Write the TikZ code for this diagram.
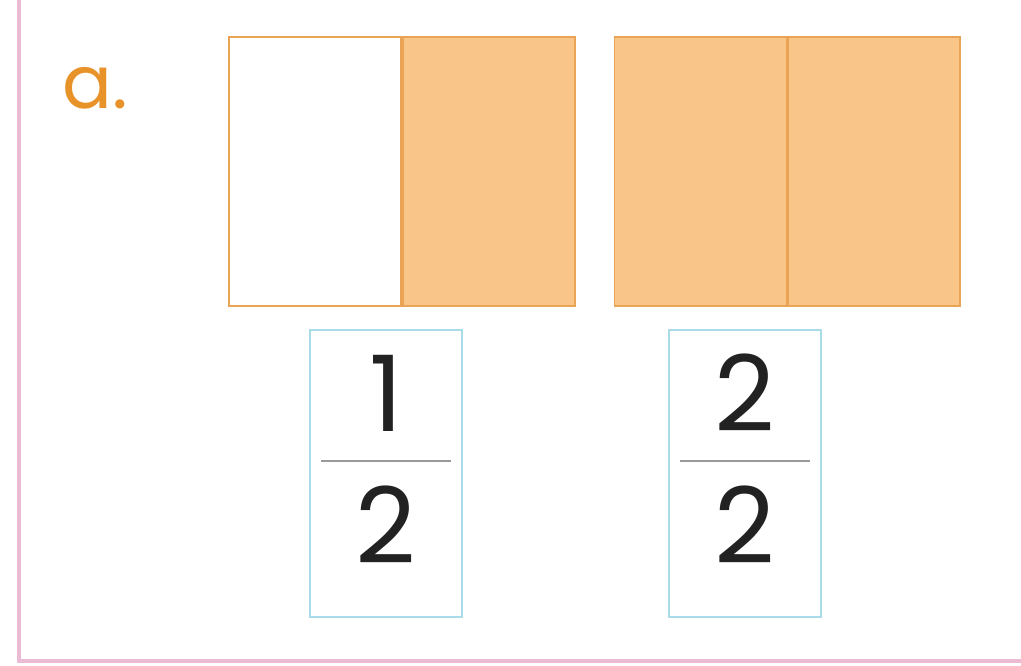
\documentclass[tikz,border=0pt]{standalone}
\usepackage{fontspec}
\setmainfont{Poppins}
\usepackage{tikz}
\usetikzlibrary{positioning,calc}
\definecolor{framepink}{HTML}{EBBBD3}
\definecolor{halffill}{HTML}{FAC589}
\definecolor{halfline}{HTML}{E9A455}
\definecolor{labelorange}{HTML}{E8922A}
\definecolor{boxblue}{HTML}{A9DCE8}
\definecolor{digitgray}{HTML}{222222}

\tikzset{
  half/.style={draw=halfline, line width=1pt, minimum width=3.44cm, minimum height=5.38cm, inner sep=0pt},
  fracbox/.style={draw=boxblue, line width=1pt, minimum width=3.04cm, minimum height=5.74cm, inner sep=0pt},
  digit/.style={text=digitgray, font=\fontsize{60}{70}\selectfont, inner sep=0pt},
  fracline/.style={draw=gray!80, line width=1.4pt}
}

\begin{document}
\begin{tikzpicture}
  \useasboundingbox (0, 0) rectangle (20.42, 13.32);

  % Page frame (left and bottom)
  \draw[framepink, line width=2.2pt] (0.38, 13.32) -- (0.38, 0.10) -- (20.42, 0.10);

  % Label
  \node[text=labelorange, font=\fontsize{42}{50}\selectfont] (lbl) at (1.9, 11.55) {a.};

  % Shape 1: one half shaded
  \node[half, fill=white] (lhalfA) at (6.30, 9.89) {};
  \node[half, fill=halffill, right=0pt of lhalfA] (rhalfA) {};

  % Shape 2: both halves shaded
  \node[half, fill=halffill] (lhalfB) at (14.01, 9.89) {};
  \node[half, fill=halffill, right=0pt of lhalfB] (rhalfB) {};

  % Fraction 1/2
  \node[fracbox] (fbA) at (7.72, 3.85) {};
  \node[digit] (numA) at (7.72, 5.46) {1};
  \node[digit] (denA) at (7.72, 2.82) {2};
  \draw[fracline] ([xshift=-1.3cm, yshift=0.25cm]fbA.center) -- ([xshift=1.3cm, yshift=0.25cm]fbA.center);

  % Fraction 2/2
  \node[fracbox] (fbB) at (14.90, 3.85) {};
  \node[digit] (numB) at (14.90, 5.46) {2};
  \node[digit] (denB) at (14.90, 2.82) {2};
  \draw[fracline] ([xshift=-1.3cm, yshift=0.25cm]fbB.center) -- ([xshift=1.3cm, yshift=0.25cm]fbB.center);
\end{tikzpicture}
\end{document}
